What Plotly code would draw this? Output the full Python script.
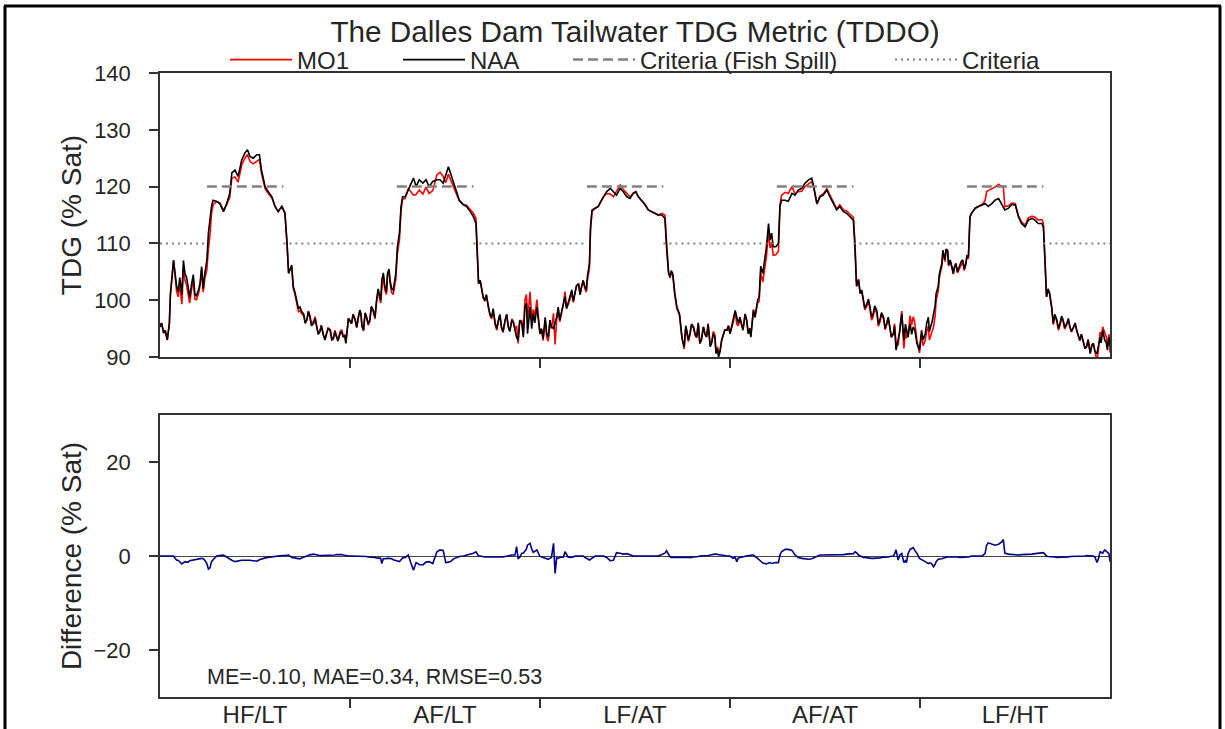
import plotly.graph_objects as go

# ---------------- data ----------------
categories = ["HF/LT", "AF/LT", "LF/AT", "AF/AT", "LF/HT"]
year_len = 365
fish_spill_start = 90      # day of year
fish_spill_end = 237
fish_spill_level = 120
criteria_level = 110
stats_text = "ME=-0.10, MAE=0.34, RMSE=0.53"

# rows: (day of record, NAA TDG % sat, MO1 - NAA difference)
year1 = [(0,95.3,0),(10,94.7,0),(14,93.0,0),(18,95.9,0),(20,101.0,0),(26,107.0,0),(29,104.7,-0.5),(32,102.4,-0.9),
         (38,104.0,-1.2),(42,101.0,-1.7),(45,107.0,-1.4),(48,104.7,-1.2),(54,102.4,-1.3),(61,103.0,-0.9),(67,101.0,-0.8),
         (74,101.8,-0.6),(80,105.9,-0.5),(86,104.7,-0.9),(90,107.0,-1.6),(93,111.8,-2.8),(96,114.0,-2.5),(99,116.5,-1.2),
         (102,117.6,-0.8),(109,117.4,0),(115,117.0,0.1),(122,115.6,0.2),(128,117.0,-0.2),(134,118.8,-0.7),(138,122.4,-0.9),
         (144,122.9,-1.2),(150,121.8,-1.0),(157,124.7,-0.9),(163,125.9,-0.9),(168,126.5,-0.85),(173,125.3,-0.9),
         (179,125.0,-1.0),(186,125.6,-1.1),(191,125.6,-0.8),(195,122.9,-0.6),(202,120.0,-0.4),(208,119.1,-0.3),
         (215,118.2,-0.2),(221,116.5,0),(227,115.6,0),(234,116.5,0.1),(240,115.3,0.1),(244,110.0,0.2),(247,104.7,0.2),
         (253,106.2,-0.3),(256,102.4,-0.3),(263,100.0,-0.5),(269,98.8,-0.6),(276,97.6,-0.3),(282,96.5,0),(288,97.0,0.3),
         (295,95.9,0.4),(301,95.3,0.2),(307,94.4,0.1),(314,93.8,0.1),(320,94.1,0.1),(327,94.7,0.1),(333,93.2,0.2),
         (339,93.5,0.3),(346,94.1,0.4),(352,93.5,0.2),(357,92.4,0.1),(362,96.8,0)]
year1_more = [(3,96.0,0),(7,94.2,0),(23,103.5,0),(35,101.5,-0.9),(51,104.0,-1.3),(57,100.5,-1.0),(64,104.5,-0.9),
              (70,100.8,-0.7),(77,103.0,-0.5),(83,102.0,-0.6),(259,101.5,-0.4),(266,98.5,-0.5),(272,98.0,-0.4),
              (279,96.0,-0.1),(285,98.0,0.1),(291,95.5,0.3),(298,96.8,0.3),(304,94.0,0.1),(310,95.5,0.1),
              (317,93.0,0.1),(323,95.0,0.1),(330,93.0,0.2),(336,94.5,0.2),(342,92.8,0.3),(349,94.5,0.3),(355,93.8,0.1)]
year2 = [(368,95.9,0),(375,96.5,0),(381,97.0,-0.1),(386,97.6,-0.1),(391,94.7,-0.1),(397,97.0,-0.1),(403,96.5,-0.2),
         (410,98.2,-0.3),(416,100.0,-0.4),(421,101.2,-0.5),(426,103.5,-1.6),(432,102.4,-0.6),(437,104.7,-0.5),
         (442,103.5,-0.5),(448,101.8,-0.8),(453,104.7,-1.0),(456,109.4,-1.2),(460,111.8,-1.2),(463,116.5,-0.8),
         (466,118.2,-0.4),(471,118.2,-0.3),(477,119.4,0.2),(482,120.6,-1.5),(487,121.5,-3.0),(492,120.0,-1.4),
         (498,121.2,-1.8),(505,120.6,-1.9),(511,121.2,-1.3),(517,120.0,-1.2),(524,120.9,-1.6),(532,121.2,0.9),
         (538,121.2,1.3),(544,120.6,1.2),(549,122.1,-1.4),(554,123.5,-1.3),(558,122.4,-1.2),(564,120.6,-0.6),
         (569,119.1,-0.3),(575,117.6,-0.1),(583,116.8,0),(589,116.5,0.2),(596,115.6,0.3),(602,114.7,0.6),
         (607,113.5,0.9),(610,107.0,0.3),(612,102.9,0),(618,101.8,-0.1),(624,100.0,-0.2),(631,98.8,-0.2),
         (637,97.0,-0.3),(644,95.9,-0.3),(650,96.5,-0.2),(656,95.3,-0.2),(663,96.5,-0.1),(669,95.3,0.1),
         (676,96.5,0.2),(682,94.7,0.2),(685,93.5,2.0),(688,92.9,-0.5),(695,95.9,0.6),(701,98.8,1.2),(706,94.1,2.3),
         (711,98.8,2.7),(717,97.6,0.8),(724,98.8,1.3)]
year2_more = [(371,97.5,0),(378,95.2,0),(384,98.3,-0.1),(388,95.5,-0.1),(394,97.8,-0.1),(400,95.8,-0.2),
              (406,98.9,-0.2),(413,97.0,-0.3),(419,102.0,-0.4),(424,100.0,-0.5),(429,104.8,-0.6),(435,101.5,-0.5),
              (440,105.5,-0.5),(445,102.0,-0.6),(451,103.5,-0.9),(615,103.5,0),(621,100.5,-0.1),(627,101.0,-0.2),
              (634,97.5,-0.2),(640,98.5,-0.3),(647,95.0,-0.3),(653,97.5,-0.2),(659,94.5,-0.2),(666,97.5,0),
              (672,94.5,0.1),(679,96.0,0.2),(691,96.5,-0.3),(698,93.5,0.6),(704,99.5,1.5),(714,95.0,1.5),(720,96.0,1.0)]
year3 = [(730,94.1,-0.1),(736,93.2,-0.3),(740,97.0,-0.5),(746,93.5,-0.7),(752,95.3,-0.3),(756,95.0,2.7),(759,95.9,-3.7),
         (765,98.8,-0.5),(772,98.2,-0.3),(778,100.6,0.9),(784,99.4,-0.2),(791,101.8,-0.3),(797,101.2,0),(804,102.9,0),
         (810,102.4,0),(816,102.4,-0.3),(821,104.1,-0.6),(825,106.5,-0.85),(827,112.9,-0.7),(830,115.9,-0.3),
         (836,116.2,0),(842,116.5,0),(847,117.4,0),(852,118.2,0),(858,119.1,-0.3),(865,119.7,-1.0),(871,119.1,-0.9),
         (877,118.5,0.7),(884,119.7,0.6),(890,119.1,0.4),(897,118.2,0.5),(903,117.9,0.3),(909,118.8,0),(914,119.1,0),
         (919,118.2,0),(925,117.6,0),(932,116.8,0),(938,115.9,0),(945,115.6,0),(951,115.3,0),(957,115.0,0),
         (964,115.0,0.3),(970,114.4,0.6),(973,109.4,1.1),(977,104.7,0.2),(980,104.1,-0.2),(985,104.7,-0.3),
         (989,101.2,-0.3),(993,98.8,-0.3),(998,97.6,-0.3),(1002,94.1,-0.3),(1007,91.8,-0.4),(1012,94.7,-0.4),
         (1018,94.1,-0.3),(1025,95.3,-0.2),(1031,93.5,-0.1),(1037,92.4,0),(1044,95.3,0),(1050,93.5,0.1),
         (1057,91.8,0.2),(1063,94.1,0.4),(1068,90.6,0.4),(1073,90.0,0.3),(1079,92.9,0.2),(1085,94.7,0.1),(1089,94.7,0)]
year3_more = [(733,95.0,-0.2),(743,94.0,-0.6),(749,96.5,-0.5),(762,97.0,-0.4),(768,96.5,-0.3),(775,99.5,-0.2),
              (781,98.5,0.2),(788,100.5,-0.3),(794,99.8,-0.2),(800,102.5,0),(807,101.0,0),(813,103.5,0),
              (819,101.8,-0.4),(982,105.2,-0.3),(987,102.5,-0.3),(1004,92.8,-0.3),(1010,95.5,-0.4),(1015,93.0,-0.3),
              (1021,95.8,-0.3),(1028,94.0,-0.2),(1034,96.0,-0.1),(1040,93.0,0),(1047,94.0,0),(1053,95.8,0.1),
              (1060,92.5,0.3),(1066,93.5,0.4),(1071,91.5,0.3),(1076,91.0,0.2),(1082,93.8,0.1),(1092,95.5,0)]
year4 = [(1095,94.1,0),(1101,96.5,-0.5),(1105,98.2,-0.3),(1108,97.0,-1.2),(1111,95.9,-0.4),(1117,95.9,-0.2),
         (1124,97.6,-0.1),(1130,94.1,0.1),(1135,93.5,0.2),(1140,98.2,0.2),(1146,98.8,-0.2),(1151,100.6,-0.8),
         (1154,106.0,-1.2),(1158,104.7,-1.5),(1162,107.1,-1.6),(1165,109.4,-1.7),(1169,113.5,-1.5),(1172,110.6,-1.4),
         (1175,111.8,-1.6),(1178,109.4,-1.5),(1183,109.4,-1.4),(1188,110.0,-1.4),(1191,116.5,0.2),(1194,117.6,0.9),
         (1201,117.6,1.4),(1207,117.4,1.4),(1214,118.8,1.2),(1220,118.5,0.2),(1226,119.4,-0.3),(1233,119.7,-0.5),
         (1239,120.6,-0.6),(1246,121.2,-0.7),(1252,121.5,-0.6),(1256,120.0,-0.4),(1262,117.0,-0.1),(1268,118.2,0.2),
         (1274,118.5,0.2),(1281,119.4,0.2),(1287,118.2,0.2),(1294,117.0,0.3),(1300,115.9,0.2),(1306,116.5,0.3),
         (1313,115.6,0.3),(1319,115.3,0.4),(1326,114.7,0.4),(1332,114.1,0.5),(1335,109.4,0.9),(1338,102.4,0.7),
         (1342,103.5,0.2),(1345,101.2,0),(1351,100.0,-0.3),(1358,99.4,-0.4),(1364,98.8,-0.5),(1370,97.6,-0.5),
         (1377,98.2,-0.5),(1383,96.5,-0.4),(1390,97.0,-0.3),(1396,95.9,-0.2),(1402,95.3,-0.1),(1409,94.1,0),
         (1414,91.2,1.3),(1418,92.9,-0.85),(1425,97.6,0.5),(1429,92.9,-1.4),(1434,94.7,-1.4),(1441,95.9,1.4),
         (1447,95.3,1.8),(1454,92.4,0.6)]
year4_more = [(1098,95.2,-0.3),(1114,97.0,-0.3),(1120,94.8,-0.1),(1127,96.5,0),(1133,95.0,0.1),(1138,96.0,0.2),
              (1143,97.0,0),(1148,100.0,-0.5),(1348,101.8,-0.2),(1354,98.6,-0.3),(1361,100.2,-0.4),(1367,97.0,-0.5),
              (1373,99.0,-0.5),(1380,95.8,-0.4),(1386,97.8,-0.3),(1393,95.0,-0.2),(1399,97.0,-0.2),(1405,93.5,0),
              (1411,95.5,0.4),(1421,94.5,0.2),(1432,95.8,-1.0),(1437,93.5,0.5),(1444,94.0,1.6),(1450,94.8,1.2)]
year5 = [(1459,91.2,-0.5),(1463,94.7,-0.8),(1470,94.1,-1.2),(1476,97.0,-1.6),(1481,95.3,-1.5),(1486,97.6,-2.3),
         (1491,101.2,-1.2),(1495,102.4,-0.7),(1500,105.9,-0.7),(1504,108.8,-0.5),(1508,107.1,-0.3),(1513,108.8,-0.2),
         (1518,107.1,-0.2),(1524,104.7,-0.1),(1529,106.5,-0.2),(1536,105.9,-0.3),(1542,107.1,-0.3),(1548,106.5,-0.3),
         (1553,107.6,-0.2),(1556,114.7,-0.1),(1559,115.3,0),(1566,116.2,0),(1572,116.5,0),(1579,116.8,0),
         (1585,117.0,0.5),(1588,116.8,2.3),(1591,116.5,2.8),(1598,117.0,2.6),(1604,117.6,2.3),(1611,117.9,2.5),
         (1617,117.0,3.0),(1620,116.5,3.5),(1623,115.9,0.6),(1630,116.2,0.4),(1636,116.8,0.3),(1643,116.8,0.2),
         (1649,114.7,0.2),(1655,113.5,0.3),(1662,112.9,0.3),(1668,114.1,0.4),(1675,114.4,0.4),(1681,114.1,0.5),
         (1687,113.5,0.6),(1694,113.5,0.7),(1697,112.9,0.7),(1700,107.1,0.4),(1703,100.6,0),(1709,101.2,-0.1),
         (1713,98.8,-0.2),(1716,95.9,-0.2),(1723,96.5,-0.3),(1729,95.9,-0.3),(1735,96.5,-0.3),(1742,95.9,-0.2),
         (1748,95.3,-0.1),(1755,95.3,-0.1),(1761,94.7,0),(1767,92.9,0),(1774,92.4,0),(1780,91.8,0.1),(1787,90.6,0.1),
         (1793,92.4,0),(1800,90.6,-1.4),(1806,93.5,0.9),(1811,94.7,0.6),(1815,92.9,1.3),(1820,91.2,0.8),(1825,92.0,-1.2)]
year5_more = [(1461,93.0,-0.6),(1466,93.0,-1.0),(1473,96.0,-1.4),(1478,94.5,-1.5),(1484,96.5,-1.9),(1489,99.0,-1.8),
              (1497,104.5,-0.7),(1502,106.5,-0.6),(1510,109.0,-0.3),(1515,106.2,-0.2),(1521,106.0,-0.2),
              (1526,105.8,-0.1),(1532,105.0,-0.2),(1539,106.8,-0.3),(1545,105.5,-0.3),(1550,107.8,-0.3),
              (1706,102.0,-0.1),(1711,100.0,-0.2),(1719,97.5,-0.2),(1726,95.0,-0.3),(1732,97.2,-0.3),(1738,95.2,-0.3),
              (1745,96.8,-0.2),(1751,94.5,-0.1),(1758,96.0,-0.1),(1764,93.8,0),(1770,94.0,0),(1777,91.5,0),
              (1783,93.0,0.1),(1790,92.0,0.1),(1796,91.0,-0.2),(1803,92.0,-0.5),(1808,92.5,0.8),(1813,93.8,1.0),
              (1818,92.5,1.0),(1823,93.5,0.5)]

rows = sorted(year1 + year1_more + year2 + year2_more + year3 + year3_more +
              year4 + year4_more + year5 + year5_more)
day = [r[0] for r in rows]
naa = [r[1] for r in rows]
diff = [r[2] for r in rows]
mo1 = [a + b for a, b in zip(naa, diff)]

n_years = len(categories)
total_days = n_years * year_len

# criteria segments
fs_x, fs_y, cr_x, cr_y = [], [], [], []
prev_end = 0
for k in range(n_years):
    s = k * year_len + fish_spill_start
    e = k * year_len + fish_spill_end
    fs_x += [s, e, None]
    fs_y += [fish_spill_level, fish_spill_level, None]
    cr_x += [prev_end, s, None]
    cr_y += [criteria_level, criteria_level, None]
    prev_end = e
cr_x += [prev_end, total_days]
cr_y += [criteria_level, criteria_level]

# ---------------- figure ----------------
FONT = "Liberation Sans, Arial, sans-serif"
TXT = "#262626"
AX = "#333333"

fig = go.Figure()
fig.add_trace(go.Scatter(x=day, y=mo1, mode="lines", name="MO1", legend="legend",
                         line=dict(color="#ff0000", width=1.6), xaxis="x", yaxis="y"))
fig.add_trace(go.Scatter(x=day, y=naa, mode="lines", name="NAA", legend="legend2",
                         line=dict(color="#000000", width=1.6), xaxis="x", yaxis="y"))
fig.add_trace(go.Scatter(x=fs_x, y=fs_y, mode="lines", name="Criteria (Fish Spill)", legend="legend3",
                         line=dict(color="#808080", width=2.5, dash="10px,5px"), xaxis="x", yaxis="y"))
fig.add_trace(go.Scatter(x=cr_x, y=cr_y, mode="lines", name="Criteria", legend="legend4",
                         line=dict(color="#808080", width=2, dash="2px,4px"), xaxis="x", yaxis="y"))
fig.add_trace(go.Scatter(x=day, y=diff, mode="lines", name="Difference", showlegend=False,
                         line=dict(color="#00008b", width=1.6), xaxis="x2", yaxis="y2"))

mid_ticks = [(k + 0.5) * year_len for k in range(n_years)]
bound_ticks = [k * year_len for k in range(1, n_years)]

xcommon = dict(range=[0, total_days], showline=True, linecolor=AX, linewidth=1.5, mirror=True,
               showgrid=False, zeroline=False, tickmode="array", tickvals=mid_ticks, ticktext=categories,
               ticks="", automargin=False, ticklabelstandoff=-5,
               minor=dict(tickmode="array", tickvals=bound_ticks, ticks="outside", ticklen=9,
                          tickwidth=1.5, tickcolor=AX, showgrid=False),
               tickfont=dict(size=24, color=TXT, family=FONT))
ycommon = dict(showline=True, linecolor=AX, linewidth=1.5, mirror=True, showgrid=False, automargin=False,
               ticks="outside", ticklen=9, tickwidth=1.5, tickcolor=AX,
               tickfont=dict(size=22, color=TXT, family=FONT), ticklabelstandoff=14)

top_lo = (697 - 357) / 624
bot_hi = (697 - 415) / 624

def leg(px):
    return dict(orientation="h", x=(px - 160) / 950, xanchor="left", y=(697 - 60) / 624, yanchor="middle",
                font=dict(size=24, color=TXT, family=FONT), itemwidth=62,
                bgcolor="rgba(0,0,0,0)", borderwidth=0)

fig.update_layout(
    width=1225, height=729,
    margin=dict(l=160, r=115, t=73, b=32),
    paper_bgcolor="white", plot_bgcolor="white",
    font=dict(family=FONT, color=TXT),
    title=dict(text="The Dalles Dam Tailwater TDG Metric (TDDO)", x=0.5, xref="paper",
               y=1 - 32 / 729, yref="container", yanchor="middle", xanchor="center",
               font=dict(size=29.7, color=TXT, family=FONT)),
    xaxis=dict(domain=[0, 1], anchor="y", showticklabels=False, **xcommon),
    xaxis2=dict(domain=[0, 1], anchor="y2", matches="x", showticklabels=True, **xcommon),
    yaxis=dict(domain=[top_lo, 1], anchor="x", range=[90, 140], tickvals=[90, 100, 110, 120, 130, 140],
               zeroline=False, title=dict(text="TDG (% Sat)", font=dict(size=28, color=TXT, family=FONT), standoff=4),
               **ycommon),
    yaxis2=dict(domain=[0, bot_hi], anchor="x2", range=[-30, 30], tickvals=[-20, 0, 20],
                zeroline=True, zerolinecolor="#444444", zerolinewidth=1,
                title=dict(text="Difference (% Sat)", font=dict(size=28, color=TXT, family=FONT), standoff=4),
                **ycommon),
    legend=leg(225), legend2=leg(398), legend3=leg(568), legend4=leg(890),
    annotations=[dict(text=stats_text, xref="paper", yref="paper", x=(205 - 160) / 950, y=(697 - 677) / 624,
                      xanchor="left", yanchor="middle", showarrow=False,
                      font=dict(size=21.5, color=TXT, family=FONT))],
    shapes=[
        dict(type="line", xref="paper", yref="paper", x0=(4 - 160) / 950, x1=(1221 - 160) / 950,
             y0=(697 - 6) / 624, y1=(697 - 6) / 624, line=dict(color="black", width=3)),
        dict(type="line", xref="paper", yref="paper", x0=(5 - 160) / 950, x1=(5 - 160) / 950,
             y0=(697 - 6) / 624, y1=(697 - 740) / 624, line=dict(color="black", width=3)),
        dict(type="line", xref="paper", yref="paper", x0=(1220 - 160) / 950, x1=(1220 - 160) / 950,
             y0=(697 - 6) / 624, y1=(697 - 740) / 624, line=dict(color="black", width=3)),
    ],
)

fig.write_html("out.html", config={"displayModeBar": False},
               post_script="document.body.style.margin='0px';")
